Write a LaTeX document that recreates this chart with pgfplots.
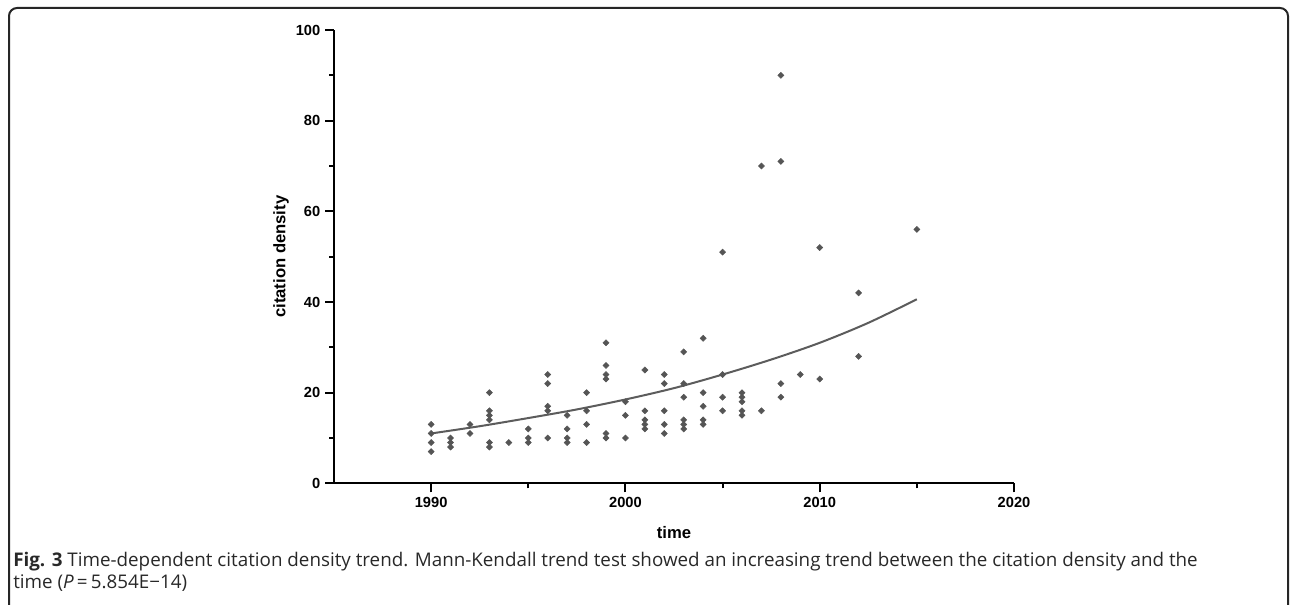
\documentclass[border=0pt]{standalone}
\usepackage{fontspec}
\setmainfont{Liberation Sans}
\newfontfamily\capfont{Open Sans}
\usepackage{pgfplots}
\usepackage{pgfplotstable}
\pgfplotsset{compat=1.18}
\definecolor{dotgray}{RGB}{85,85,85}
\definecolor{fitgray}{RGB}{92,92,92}
\definecolor{captext}{RGB}{40,40,40}

% citation density per paper, by publication year
\pgfplotstableread{
year density
1990 13
1990 11
1990 9
1990 7
1991 10
1991 9
1991 8
1992 13
1992 11
1993 20
1993 16
1993 15
1993 14
1993 9
1993 8
1994 9
1995 12
1995 10
1995 9
1996 24
1996 22
1996 17
1996 16
1996 10
1997 15
1997 12
1997 10
1997 9
1998 20
1998 16
1998 13
1998 9
1999 31
1999 26
1999 24
1999 23
1999 11
1999 10
2000 18
2000 15
2000 10
2001 25
2001 16
2001 14
2001 13
2001 12
2002 24
2002 22
2002 16
2002 13
2002 11
2003 29
2003 22
2003 19
2003 14
2003 13
2003 12
2004 32
2004 20
2004 17
2004 14
2004 13
2005 51
2005 24
2005 19
2005 16
2006 20
2006 19
2006 18
2006 16
2006 15
2007 70
2007 16
2008 90
2008 71
2008 22
2008 19
2009 24
2010 52
2010 23
2012 42
2012 28
2015 56
}\citedata

% trend curve
\pgfplotstableread{
year fit
1990 11.0
1992.5 12.6
1995 14.4
1997.5 16.3
2000 18.5
2002.5 21.0
2005 24.0
2007.5 27.3
2010 31.0
2012.5 35.4
2015 40.6
}\fitdata

\begin{document}
\begin{tikzpicture}
% page frame, 1 unit = 1 px of the 1290x605 picture
\begin{scope}[x=0.75pt, y=-0.75pt]
  \useasboundingbox (0,0) rectangle (1290,605);
  \draw[line width=1.5pt, black!85, rounded corners=6pt] (9,640) -- (9,8) -- (1288,8) -- (1288,640);
  \node[anchor=base west, inner sep=0pt, text=captext, font=\capfont\fontsize{14.1}{16}\selectfont]
    at (13,567) {\textbf{Fig. 3} Time-dependent citation density trend. Mann-Kendall trend test showed an increasing trend between the citation density and the};
  \node[anchor=base west, inner sep=0pt, text=captext, font=\capfont\fontsize{14.1}{16}\selectfont]
    at (13,589) {time (\textit{P}\,=\,5.854E−14)};
\end{scope}

\begin{axis}[
    at={(250.5pt,-362.5pt)}, anchor=south west,
    scale only axis, width=510pt, height=340pt,
    xmin=1985, xmax=2020, ymin=0, ymax=100,
    axis lines=left, axis line style={-, line width=1.5pt, black},
    xtick={1990,2000,2010,2020}, minor xtick={1995,2005,2015},
    ytick={0,20,40,60,80,100}, minor ytick={10,30,50,70,90},
    tick align=outside, major tick length=6.75pt, minor tick length=3.75pt,
    major tick style={line width=1.5pt, black},
    minor tick style={line width=1.5pt, black},
    /pgf/number format/1000 sep={},
    /pgf/number format/assume math mode=true,
    xticklabel style={font=\fontsize{11}{13}\selectfont\bfseries},
    yticklabel style={font=\fontsize{11}{13}\selectfont\bfseries},
    every axis x label/.style={at={(axis description cs:0.5,0)}, yshift=-36.75pt, anchor=center},
    every axis y label/.style={at={(axis description cs:0,0.5)}, xshift=-39.75pt, rotate=90, anchor=center},
    label style={font=\bfseries\fontsize{12.5}{14}\selectfont},
    xlabel={time}, ylabel={citation density},
    clip=false]
  \addplot[only marks, mark=square*, mark size=1.6pt, mark options={rotate=45}, dotgray] table[x=year, y=density] {\citedata};
  \addplot[smooth, no marks, line width=1.5pt, fitgray] table[x=year, y=fit] {\fitdata};
\end{axis}
\end{tikzpicture}
\end{document}
